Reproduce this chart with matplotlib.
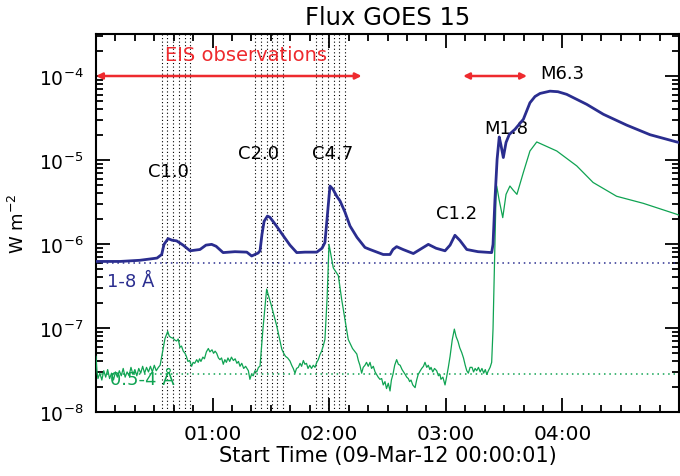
import numpy as np
import matplotlib as mpl
mpl.use('Agg')
import matplotlib.pyplot as plt
from matplotlib.ticker import FixedLocator, MultipleLocator, FuncFormatter, LogLocator, LogFormatterMathtext

# GOES 15 X-ray flux, 09-Mar-2012: (minutes after 00:00:01, W m^-2)
long_samples = [
    (0, 6.2e-7), (12.4, 6.2e-7), (22.6, 6.4e-7), (31.4, 6.8e-7), (33.8, 7.5e-7),
    (35.0, 9.9e-7), (37.1, 1.16e-6), (39.1, 1.11e-6), (41.5, 1.09e-6), (44.8, 9.7e-7),
    (48.4, 8.3e-7), (53.5, 8.6e-7), (56.6, 9.7e-7), (59.5, 9.9e-7), (61.8, 9.4e-7),
    (65.4, 7.9e-7), (71.5, 8.1e-7), (77.6, 8.0e-7), (80.1, 7.2e-7), (83.4, 7.8e-7),
    (84.4, 8.3e-7), (85.4, 1.3e-6), (86.5, 1.86e-6), (88.2, 2.15e-6), (89.5, 2.08e-6),
    (92.6, 1.67e-6), (96.4, 1.25e-6), (99.8, 9.7e-7), (103.3, 7.9e-7), (107.5, 8.0e-7),
    (113.6, 8.0e-7), (116.3, 8.9e-7), (117.8, 1.04e-6), (119.1, 2.25e-6), (120.4, 4.9e-6),
    (121.9, 4.5e-6), (123.9, 3.7e-6), (125.6, 3.25e-6), (128.1, 2.4e-6), (130.7, 1.64e-6),
    (134.3, 1.2e-6), (138.4, 9.1e-7), (141.0, 8.6e-7), (147.8, 7.5e-7), (151.3, 7.5e-7),
    (152.8, 8.6e-7), (154.7, 9.3e-7), (158.0, 8.6e-7), (163.3, 7.7e-7), (166.7, 8.6e-7),
    (171.0, 9.9e-7), (175.0, 8.9e-7), (179.6, 8.3e-7), (182.2, 9.7e-7), (184.7, 1.27e-6),
    (187.3, 1.1e-6), (190.8, 8.6e-7), (196.6, 8.1e-7), (203.6, 7.9e-7), (204.3, 9.9e-7),
    (205.3, 3.4e-6), (206.4, 1.02e-5), (207.5, 1.88e-5), (208.4, 1.5e-5), (209.6, 1.07e-5),
    (211.0, 1.62e-5), (212.7, 2.02e-5), (215.6, 2.32e-5), (219.9, 3.05e-5), (223.3, 4.8e-5),
    (225.9, 5.7e-5), (228.5, 6.2e-5), (233.6, 6.6e-5), (237.7, 6.5e-5), (242.2, 6.05e-5),
    (252.5, 4.6e-5), (261.1, 3.5e-5), (273.1, 2.6e-5), (285.1, 2.0e-5), (298.8, 1.64e-5),
    (300, 1.62e-5),
]

short_samples = [
    (0, 4.6e-8), (0.5, 3.0e-8), (1, 2.5e-8), (2, 2.9e-8), (3, 2.4e-8), (4, 3.1e-8),
    (5, 2.6e-8), (6, 3.2e-8), (7, 2.5e-8), (8, 2.9e-8), (9, 2.4e-8), (10, 3.0e-8),
    (11, 2.6e-8), (12, 3.1e-8), (13, 2.7e-8), (14, 3.3e-8), (15, 2.6e-8), (16, 3.0e-8),
    (17, 2.7e-8), (18, 3.4e-8), (19, 2.8e-8), (20, 3.2e-8), (21, 2.7e-8), (22, 3.3e-8),
    (23, 2.9e-8), (24, 3.5e-8), (25, 2.9e-8), (26, 3.4e-8), (27, 3.0e-8), (28, 3.5e-8),
    (29, 3.0e-8), (30, 3.6e-8), (31, 3.1e-8), (32.1, 3.4e-8), (33, 3.6e-8), (34.5, 5.6e-8),
    (35.5, 7.5e-8), (36.9, 9.1e-8), (37.7, 8.0e-8), (38.6, 7.7e-8), (39.5, 7.6e-8),
    (40.5, 7.2e-8), (41.5, 7.0e-8), (42.3, 7.4e-8), (43.2, 5.9e-8), (44, 6.1e-8),
    (44.9, 5.3e-8), (45.8, 5.0e-8), (46.5, 4.6e-8), (47.3, 4.0e-8), (48.2, 4.1e-8),
    (49.2, 3.5e-8), (50, 3.9e-8), (50.8, 3.8e-8), (51.8, 4.2e-8), (52.6, 3.9e-8),
    (53.3, 4.3e-8), (54.0, 4.0e-8), (55, 4.5e-8), (55.8, 4.3e-8), (56.8, 5.2e-8),
    (57.8, 5.7e-8), (58.6, 5.2e-8), (59.7, 5.5e-8), (60.5, 5.0e-8), (61.3, 5.3e-8),
    (62.1, 5.0e-8), (63, 4.4e-8), (63.8, 4.2e-8), (64.6, 4.4e-8), (65.5, 3.7e-8),
    (66.3, 4.2e-8), (67.1, 3.9e-8), (67.9, 4.4e-8), (68.8, 4.0e-8), (69.7, 4.5e-8),
    (70.7, 4.1e-8), (71.6, 4.3e-8), (72.5, 3.8e-8), (73.3, 4.0e-8), (74.1, 3.5e-8),
    (75, 3.8e-8), (76, 3.3e-8), (77, 3.5e-8), (78.4, 3.1e-8), (79.2, 2.45e-8),
    (80, 2.8e-8), (80.9, 2.7e-8), (81.8, 3.1e-8), (82.7, 3.0e-8), (83.6, 3.4e-8),
    (84.4, 3.5e-8), (85.9, 9.7e-8), (87.8, 2.9e-7), (90.1, 1.9e-7), (93.0, 1.06e-7),
    (95.6, 5.6e-8), (96.6, 5.0e-8), (97.5, 4.6e-8), (98.6, 4.4e-8), (99.8, 4.05e-8),
    (100.7, 3.6e-8), (101.5, 3.3e-8), (102.4, 2.9e-8), (103.2, 3.3e-8), (104.1, 3.4e-8),
    (105.0, 3.8e-8), (105.8, 3.5e-8), (106.7, 4.1e-8), (107.5, 3.7e-8), (108.3, 3.8e-8),
    (109.1, 3.3e-8), (110, 3.6e-8), (110.9, 3.3e-8), (111.8, 3.6e-8), (112.7, 3.4e-8),
    (113.6, 3.9e-8), (114.4, 4.2e-8), (115.2, 4.8e-8), (116.1, 5.3e-8), (117, 6.2e-8),
    (117.8, 7.3e-8), (118.9, 2.2e-7), (119.9, 9.9e-7), (122.1, 5.2e-7), (124.7, 4.2e-7),
    (126.4, 2.2e-7), (129.8, 7.3e-8), (132, 5.7e-8), (134.2, 4.9e-8), (135, 4.1e-8),
    (135.8, 3.6e-8), (136.7, 2.9e-8), (137.5, 3.4e-8), (138.4, 3.6e-8), (139.2, 3.9e-8),
    (140.1, 3.5e-8), (141.0, 3.9e-8), (141.8, 3.3e-8), (142.7, 3.5e-8), (143.6, 3.0e-8),
    (144.4, 2.8e-8), (145.2, 2.6e-8), (146.1, 2.45e-8), (147, 2.5e-8), (147.8, 2.1e-8),
    (148.7, 2.3e-8), (149.5, 1.9e-8), (150.4, 2.2e-8), (151.3, 1.78e-8), (152, 2.4e-8),
    (152.8, 2.8e-8), (153.7, 3.6e-8), (154.7, 4.2e-8), (155.6, 3.7e-8), (156.5, 3.6e-8),
    (157.5, 3.2e-8), (158.3, 3.0e-8), (159.1, 2.8e-8), (159.9, 2.6e-8), (160.7, 2.5e-8),
    (161.4, 2.3e-8), (162.1, 2.4e-8), (163, 2.1e-8), (164.2, 1.95e-8), (165, 2.4e-8),
    (165.8, 2.8e-8), (166.7, 3.05e-8), (167.6, 3.3e-8), (168.5, 3.5e-8), (169.3, 3.9e-8),
    (170.2, 3.4e-8), (171, 3.6e-8), (171.8, 3.2e-8), (172.4, 3.4e-8), (173.3, 3.0e-8),
    (174.2, 3.3e-8), (175.3, 3.1e-8), (176.2, 2.7e-8), (177.0, 2.8e-8), (177.5, 2.45e-8),
    (178.5, 2.6e-8), (179.6, 2.1e-8), (180.4, 2.6e-8), (181.3, 3.4e-8), (182.2, 4.6e-8),
    (183.3, 7.2e-8), (184.4, 9.7e-8), (185.3, 7.9e-8), (186.3, 6.9e-8), (187.2, 5.8e-8),
    (188.2, 5.1e-8), (189.1, 4.4e-8), (190, 3.6e-8), (190.8, 3.1e-8), (191.6, 2.9e-8),
    (192.5, 3.4e-8), (193.5, 3.4e-8), (194.3, 3.0e-8), (195.1, 3.3e-8), (195.9, 3.1e-8),
    (196.8, 3.4e-8), (197.7, 3.0e-8), (198.6, 3.3e-8), (199.5, 2.9e-8), (200.3, 3.2e-8),
    (201.1, 2.8e-8), (201.9, 3.1e-8), (202.8, 3.4e-8), (203.6, 3.9e-8), (204.3, 9.7e-8),
    (205.1, 6.6e-7), (205.8, 3.4e-6), (206.2, 4.9e-6), (207.4, 3.4e-6), (209.3, 2.06e-6),
    (211.0, 3.9e-6), (213.0, 4.9e-6), (214.6, 4.4e-6), (216.6, 3.9e-6), (218.3, 5.3e-6),
    (219.9, 7.1e-6), (223.3, 1.28e-5), (226.8, 1.64e-5), (231.9, 1.45e-5), (237.1, 1.28e-5),
    (247.4, 8.5e-6), (255.8, 5.4e-6), (267.9, 3.7e-6), (281.6, 3.05e-6), (298.8, 2.26e-6),
    (300, 2.2e-6),
]

# pre-flare background levels
bkg_long = 5.9e-7
bkg_short = 2.8e-8

# EIS raster start times (minutes) and observing windows
eis_rasters = [33.8, 36.7, 39.8, 42.7, 45.6, 48.5,
               81.8, 84.7, 87.8, 90.4, 93.3, 96.4,
               113.4, 116.3, 119.2, 122.3, 125.2, 128.1]
eis_spans = [(0, 136.7), (188.9, 221.8)]

flare_names = ['C1.0', 'C2.0', 'C4.7', 'C1.2', 'M1.8', 'M6.3']
flare_t = [37.3, 83.6, 121.7, 185.6, 211.3, 239.8]
flare_y = [7.3e-6, 1.2e-5, 1.2e-5, 2.37e-6, 2.43e-5, 1.08e-4]

blue = '#2a2d8f'
green = '#0fa352'
red = '#ee2a2e'

t_long, flux_long = zip(*long_samples)
t_short, flux_short = zip(*short_samples)

plt.rcParams['font.family'] = 'DejaVu Sans'

fig = plt.figure(figsize=(6.8, 4.77), dpi=100)
ax = fig.add_axes([96/680, 1 - 413/477, 583/680, 378/477])

for t in eis_rasters:
    ax.axvline(t, color='black', ls=(0, (1, 2.2)), lw=0.8, zorder=1)

ax.axhline(bkg_long, color=blue, ls=(0, (1, 2.5)), lw=1.1, zorder=2)
ax.axhline(bkg_short, color=green, ls=(0, (1, 2.5)), lw=1.1, zorder=2)

ax.plot(t_short, flux_short, color=green, lw=0.9, zorder=3)
ax.plot(t_long, flux_long, color=blue, lw=2.0, zorder=4)

for t0, t1 in eis_spans:
    ax.annotate('', xy=(t0, 1e-4), xytext=(t1, 1e-4),
                arrowprops=dict(arrowstyle='<|-|>', color=red, lw=1.8,
                                mutation_scale=9, shrinkA=0, shrinkB=0))
ax.text(77.2, 1.81e-4, 'EIS observations', color=red, fontsize=14,
        ha='center', va='center')

for name, t, y in zip(flare_names, flare_t, flare_y):
    ax.text(t, y, name, fontsize=13, ha='center', va='center')

ax.text(5.7, 3.6e-7, '1-8 Å', color=blue, fontsize=13, ha='left', va='center')
ax.text(7.0, 2.45e-8, '0.5-4 Å', color=green, fontsize=13, ha='left', va='center')

ax.set_yscale('log')
ax.set_ylim(1e-8, 10**-3.5)
ax.set_xlim(0, 300)

ax.xaxis.set_major_locator(FixedLocator([60, 120, 180, 240]))
ax.xaxis.set_minor_locator(MultipleLocator(10))
ax.xaxis.set_major_formatter(FuncFormatter(lambda v, p: '%02d:%02d' % (v // 60, v % 60)))
ax.yaxis.set_major_locator(LogLocator(base=10, numticks=10))
ax.yaxis.set_minor_locator(LogLocator(base=10, subs=np.arange(2, 10), numticks=20))
ax.yaxis.set_major_formatter(LogFormatterMathtext())

ax.tick_params(which='both', direction='in', top=True, right=True, width=1.3)
ax.tick_params(which='major', length=10, labelsize=13.5, pad=9)
ax.tick_params(axis='x', which='major', labelsize=14.5)
ax.tick_params(which='minor', length=5)
for s in ax.spines.values():
    s.set_linewidth(1.5)

ax.set_title('Flux GOES 15', fontsize=17.5, pad=7)
ax.set_xlabel('Start Time (09-Mar-12 00:00:01)', fontsize=15, labelpad=1)
ax.set_ylabel('W m$^{-2}$', fontsize=13, labelpad=8)

fig.savefig('out.png', dpi=100)
